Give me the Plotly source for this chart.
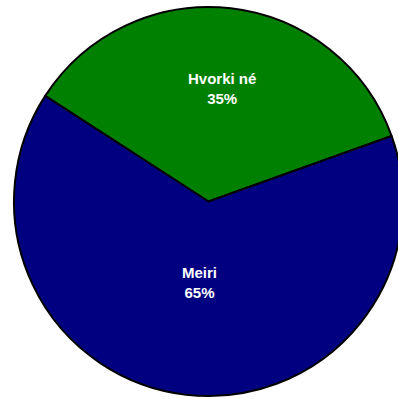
import math
import plotly.graph_objects as go

labels = ["Hvorki né", "Meiri"]
values = [35.4, 64.6]
colors = ["#008000", "#000080"]

ROTATION = -57.1
LABEL_RADIUS = [0.585, 0.42]  # fraction of the pie radius where each label sits

fig = go.Figure(
  go.Pie(
    labels=labels,
    values=values,
    sort=False,
    direction="clockwise",
    rotation=ROTATION,
    marker=dict(colors=colors, line=dict(color="black", width=2)),
    textinfo="none",
    hoverinfo="label+percent",
    showlegend=False,
  )
)

# labels placed at the middle angle of each slice
total = sum(values)
start = ROTATION
for lab, val, frac in zip(labels, values, LABEL_RADIUS):
  span = 360 * val / total
  mid = math.radians(start + span / 2)
  start += span
  fig.add_annotation(
    x=0.5 + 0.5 * frac * math.sin(mid),
    y=0.5 + 0.5 * frac * math.cos(mid),
    xref="paper", yref="paper",
    xanchor="center", yanchor="middle",
    text=f"{lab}<br>{round(100 * val / total)}%",
    showarrow=False,
    font=dict(family="Liberation Sans, Arial, sans-serif", size=15, color="white", weight="bold"),
  )

fig.update_layout(
  width=403,
  height=399,
  margin=dict(l=14, r=0, t=7, b=3),
  paper_bgcolor="white",
  plot_bgcolor="white",
)

# page is narrower than the figure: crop the right edge like the original
post = "document.body.style.margin='0';document.body.style.overflow='hidden';"
fig.write_html("out.html", post_script=post, config={"displayModeBar": False})
